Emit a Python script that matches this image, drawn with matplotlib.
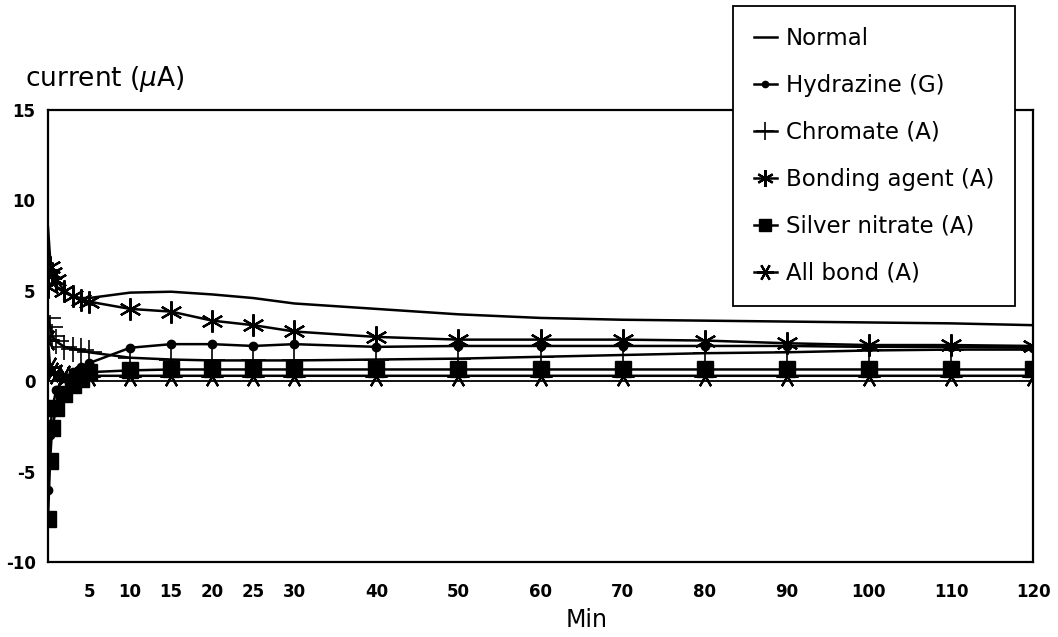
import matplotlib.pyplot as plt
import numpy as np

plt.rcParams['font.family'] = ['DejaVu Sans']
plt.rcParams['axes.unicode_minus'] = False

# time points (min)
minutes = [0, 0.25, 0.5, 1, 2, 3, 4, 5, 10, 15, 20, 25, 30, 40, 50, 60, 70, 80, 90, 100, 110, 120]

# current (uA) for each treatment
normal = [8.5, 6.8, 5.8, 5.2, 4.9, 4.7, 4.6, 4.6, 4.9, 4.95, 4.8, 4.6, 4.3, 4.0, 3.7, 3.5, 3.4, 3.35, 3.3, 3.25, 3.2, 3.1]
hydrazine = [-6.0, -3.0, -1.5, -0.5, 0.2, 0.5, 0.8, 1.0, 1.85, 2.05, 2.05, 1.95, 2.05, 1.9, 1.95, 1.95, 1.95, 1.95, 1.95, 1.9, 1.9, 1.85]
chromate = [3.5, 3.0, 2.5, 2.2, 1.9, 1.8, 1.7, 1.6, 1.3, 1.2, 1.15, 1.15, 1.15, 1.2, 1.25, 1.35, 1.45, 1.55, 1.6, 1.7, 1.75, 1.75]
bonding = [5.2, 6.3, 6.0, 5.6, 5.0, 4.7, 4.5, 4.4, 4.0, 3.85, 3.35, 3.1, 2.75, 2.45, 2.3, 2.3, 2.3, 2.25, 2.1, 2.0, 2.0, 1.95]
silver = [-7.6, -4.4, -2.6, -1.5, -0.7, -0.2, 0.1, 0.5, 0.6, 0.65, 0.65, 0.65, 0.65, 0.65, 0.65, 0.65, 0.65, 0.65, 0.65, 0.65, 0.65, 0.65]
all_bond = [2.3, 0.8, 0.5, 0.4, 0.35, 0.3, 0.3, 0.3, 0.3, 0.3, 0.3, 0.3, 0.3, 0.3, 0.3, 0.3, 0.3, 0.3, 0.3, 0.3, 0.3, 0.3]

xticks = [5, 10, 15, 20, 25, 30, 40, 50, 60, 70, 80, 90, 100, 110, 120]

fig = plt.figure(figsize=(10.58, 6.37), dpi=100)
ax = fig.add_axes([0.0454, 0.1177, 0.931, 0.7096])

ax.axhline(0, color="black", linewidth=1.3, zorder=1)
ax.plot(minutes, normal, "k-", linewidth=1.8, label="Normal")
ax.plot(minutes, hydrazine, "k-", marker="o", markersize=6, linewidth=1.8, label="Hydrazine (G)")
ax.plot(minutes, chromate, "k-", marker="+", markersize=18, markeredgewidth=1.2, linewidth=1.8, label="Chromate (A)")
ax.plot(minutes, bonding, "k-", marker=(6, 2, 0), markersize=16, markeredgewidth=1.6, linewidth=1.8, label="Bonding agent (A)")
ax.plot(minutes, silver, "k-", marker="s", markersize=11, linewidth=1.8, label="Silver nitrate (A)")
ax.plot(minutes, all_bond, "k-", marker=(6, 2, 90), markersize=16, markeredgewidth=1.6, linewidth=1.8, label="All bond (A)")

ax.set_xlim(0, 120)
ax.set_ylim(-10, 15)
ax.set_xticks(xticks)
ax.set_yticks([-10, -5, 0, 5, 10, 15])
ax.tick_params(length=0, labelsize=12)
ax.tick_params(axis="x", pad=15)
ax.tick_params(axis="y", pad=9)
for lbl in ax.get_xticklabels() + ax.get_yticklabels():
    lbl.set_fontweight("bold")
for s in ax.spines.values():
    s.set_linewidth(1.6)

fig.text(25 / 1058, 1 - 86 / 637, "current ($\\mu$A)", fontsize=19, va="baseline")
fig.text(587 / 1058, 1 - 620 / 637, "Min", fontsize=17, ha="center", va="center")

leg = fig.legend(loc="upper left", bbox_to_anchor=(733 / 1058, 1 - 6 / 637),
                 fontsize=16.5, frameon=True, fancybox=False, edgecolor="black",
                 framealpha=1, handlelength=1.0, handletextpad=0.4,
                 labelspacing=1.05, borderpad=0.9, borderaxespad=0,
                 markerscale=0.75)
leg.get_frame().set_linewidth(1.3)

fig.savefig("out.png", dpi=100)
